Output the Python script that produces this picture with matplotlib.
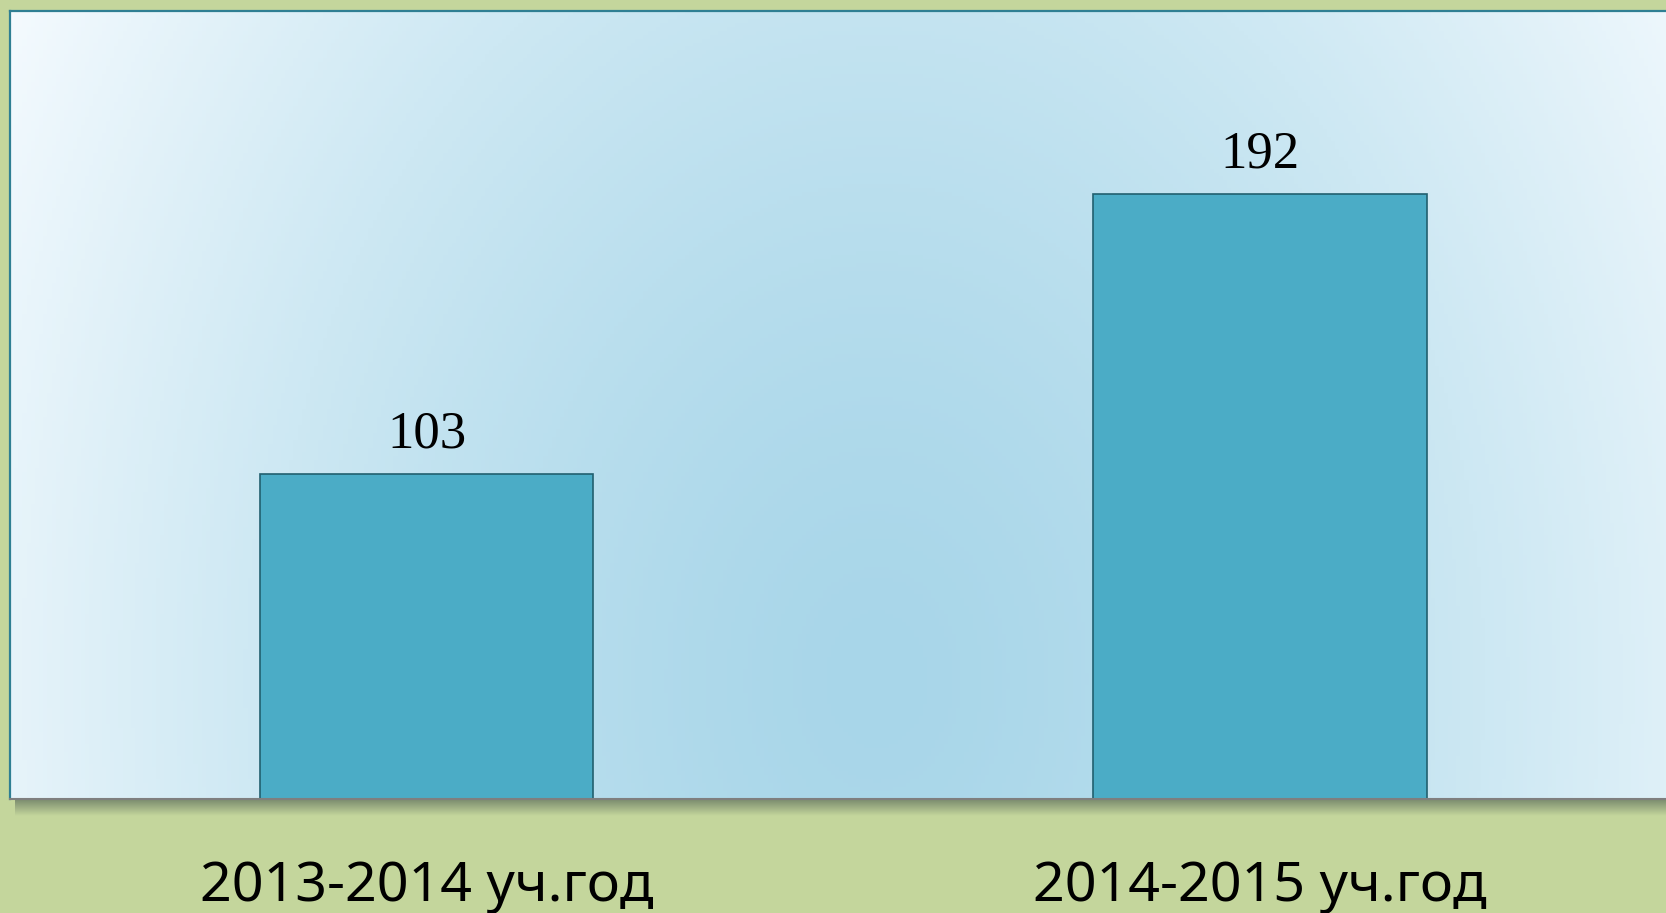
import numpy as np
import matplotlib
matplotlib.use("Agg")
import matplotlib.pyplot as plt
from matplotlib.colors import LinearSegmentedColormap

# -- Data
categories = ["2013-2014 уч.год", "2014-2015 уч.год"]
values = [103, 192]

# -- Styles
bg_green = "#c4d69c"
bar_color = "#4bacc6"
bar_edge = "#22606f"

fig = plt.figure(figsize=(16.66, 9.13), dpi=100)
fig.patch.set_facecolor(bg_green)

# -- Shadow under the plot area
shadow = fig.add_axes([0.009, 0.106, 0.995, 0.019])
shadow.axis("off")
sh = np.linspace(0, 1, 50).reshape(-1, 1)
shadow_cmap = LinearSegmentedColormap.from_list("sh", ["#75866b", bg_green])
shadow.imshow(sh, aspect="auto", cmap=shadow_cmap, extent=[0, 1, 0, 1], origin="upper")

# -- Main axes
ax = fig.add_axes([10 / 1666, 0.1249, 1.0003, 0.863])
ax.set_xlim(-0.5, 1.5)
ax.set_ylim(0, 250)

# -- Radial gradient background
nx, ny = 400, 200
gx, gy = np.meshgrid(np.linspace(0, 1, nx), np.linspace(0, 1, ny))
dist = np.sqrt(((gx - 0.52) / 0.6) ** 2 + ((gy - 0.15) / 1.7) ** 2)
dist = np.clip(dist, 0, 1) ** 1.4
grad_cmap = LinearSegmentedColormap.from_list("gr", ["#a8d6e9", "#cde8f3", "#f4fafe"])
ax.imshow(dist, cmap=grad_cmap, aspect="auto", origin="lower",
          extent=[-0.5, 1.5, 0, 250], zorder=0, vmin=0, vmax=1)

x = np.arange(len(categories))
bars = ax.bar(x, values, width=0.4, color=bar_color, edgecolor=bar_edge,
              linewidth=1.2, zorder=2)

for xi, v in zip(x, values):
    ax.annotate(str(v), xy=(xi, v), xytext=(0, 19), textcoords="offset points",
                ha="center", va="baseline", fontsize=38,
                family="Liberation Serif", color="black", zorder=3)

ax.set_xticks([])
ax.set_yticks([])
ax.spines["right"].set_visible(False)
ax.spines["left"].set_color("#2f7f93")
ax.spines["left"].set_linewidth(1.6)
ax.spines["top"].set_color("#2f7f93")
ax.spines["top"].set_linewidth(1.6)
ax.spines["bottom"].set_color("#7f7f7f")
ax.spines["bottom"].set_linewidth(1.5)

# -- Category labels below the plot area
for xi, lab in zip(x, categories):
    ax.annotate(lab, xy=(xi, 0), xycoords="data", xytext=(0, -63),
                textcoords="offset points", ha="center", va="center",
                fontsize=40, family="Noto Sans", color="black",
                annotation_clip=False)

fig.savefig("out.png", dpi=100, facecolor=fig.get_facecolor())
